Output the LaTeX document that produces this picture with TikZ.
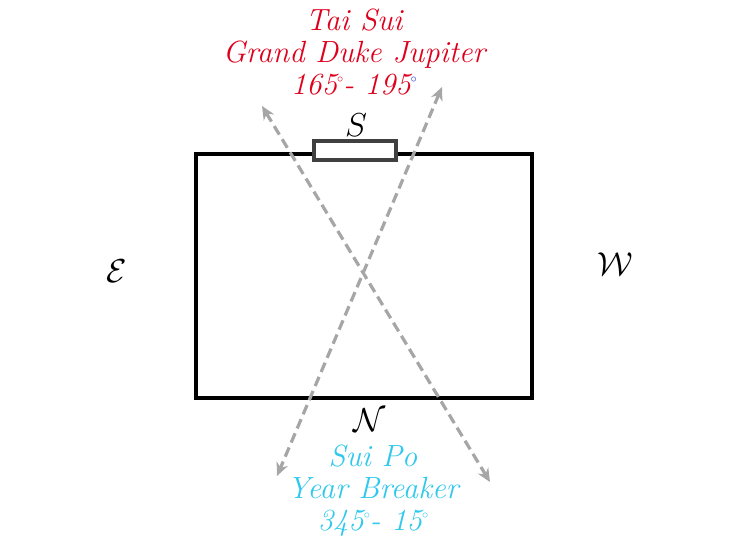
\documentclass[tikz,border=0pt]{standalone}
\usetikzlibrary{arrows.meta}
\definecolor{tsred}{RGB}{222,0,28}
\definecolor{spcyan}{RGB}{48,200,236}
\definecolor{arrgray}{RGB}{166,166,166}
\definecolor{boxgray}{RGB}{64,64,64}
\definecolor{degblue}{RGB}{30,40,200}
\newcommand{\dg}{\raisebox{0.9ex}{\fontsize{9}{9}\selectfont$\circ$}}
\tikzset{
  lbl/.style={font=\fontsize{23}{24}\selectfont\itshape, inner sep=0pt, align=center},
  dir/.style={font=\fontsize{23}{24}\selectfont, inner sep=0pt},
  dashedarrow/.style={draw=arrgray, line width=2.4pt, dash pattern=on 7.5pt off 4pt, {Stealth[length=10pt,width=9pt]}-{Stealth[length=10pt,width=9pt]}},
}
\begin{document}
\begin{tikzpicture}[x=0.75pt,y=-0.75pt]
\useasboundingbox (0,0) rectangle (738,547);
% main rectangle
\node[draw=black, line width=2.3pt, minimum width=336*0.75pt, minimum height=244*0.75pt, inner sep=0pt] (room) at (364,276) {};
\node[draw=boxgray, fill=white, line width=2.3pt, minimum width=82*0.75pt, minimum height=19*0.75pt, inner sep=0pt] (door) at (355,150.5) {};
% arrows
\coordinate (a1s) at (262,106);
\coordinate (a1e) at (490,482);
\coordinate (a2s) at (442,87);
\coordinate (a2e) at (277,476);
\draw[dashedarrow] (a1s) -- (a1e);
\draw[dashedarrow] (a2s) -- (a2e);
% direction labels
\node[dir] (S) at (356,125) {$S$};
\node[dir] (E) at (117,271) {$\mathcal{E}$};
\node[dir] (W) at (615,264) {$\mathcal{W}$};
\node[dir] (N) at (370,420) {$\mathcal{N}$};
% texts
\node[lbl, text=tsred] (top) at (354,52) {Tai Sui\\Grand Duke Jupiter\\165\dg- 195\textcolor{degblue}{\dg}};
\node[lbl, text=spcyan] (bot) at (373,491) {Sui Po\\Year Breaker\\345\dg- 15\dg};
\end{tikzpicture}
\end{document}
